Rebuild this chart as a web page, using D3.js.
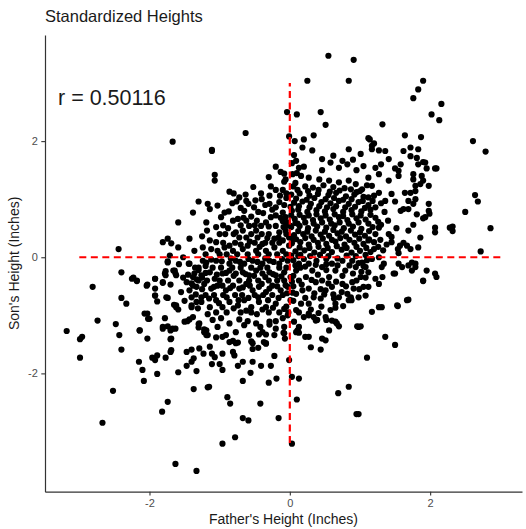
<!DOCTYPE html>
<html>
<head>
<meta charset="utf-8">
<script src="https://cdn.jsdelivr.net/npm/d3@7"></script>
<style>
  body { margin: 0; background: #fff; }
  svg { display: block; font-family: "Liberation Sans", Arial, sans-serif; }
</style>
</head>
<body>
<svg id="chart" width="526" height="529"></svg>
<script>
// Standardized father / son heights (z-scores)
const heights = [
  // sparse top / outliers
  [0.55,3.47],[0.91,3.40],[0.25,3.04],[0.84,3.04],[1.90,3.04],[1.83,2.89],[1.76,2.74],[2.16,2.64],
  [2.02,2.46],[2.13,2.36],[-0.04,2.50],[0.10,2.46],[0.44,2.50],[0.51,2.28],[1.32,2.29],[-0.63,2.14],
  [-1.67,1.99],[-1.11,1.85],[2.61,2.00],[2.79,1.82],[1.64,2.10],[1.87,2.07],[1.12,2.05],[0.34,2.10],
  [0.20,2.03],[-0.01,2.08],[0.07,2.00],[1.14,2.03],[1.20,1.96],
  // upper right
  [0.18,1.89],[0.32,1.84],[0.84,1.86],[1.01,1.78],[1.17,1.92],[1.27,1.84],[1.36,1.83],[1.41,1.69],
  [1.62,1.83],[1.72,1.89],[1.83,1.86],[1.72,1.74],[1.81,1.71],[0.46,1.69],[0.58,1.63],[0.75,1.66],
  [0.82,1.60],[0.46,1.50],[0.70,1.54],[0.09,1.66],[0.13,1.54],[0.20,1.56],[0.04,1.43],[0.16,1.40],
  [0.27,1.37],[0.06,1.76],[1.05,1.57],[1.22,1.54],[1.27,1.43],[1.12,1.37],[1.41,1.32],[1.55,1.49],
  [1.55,1.40],[1.76,1.43],[1.93,1.63],[2.07,1.53],[1.86,1.26],[1.79,1.14],[1.98,1.23],[1.58,1.60],
  [1.50,1.53],[1.83,1.60],[1.90,1.64],[1.95,1.53],[2.09,1.53],[1.76,1.34],[1.88,1.40],[1.90,1.32],
  [1.17,1.86],[0.62,1.75],[0.95,1.50],[1.30,1.60],[0.90,1.68],
  // right middle
  [0.42,1.34],[0.56,1.32],[0.70,1.29],[0.84,1.32],[0.94,1.26],[1.03,1.17],[1.17,1.23],[1.27,1.11],
  [1.12,1.03],[1.36,0.97],[1.45,1.09],[1.64,1.11],[1.69,0.97],[1.62,0.83],[1.79,1.00],[1.98,0.92],
  [1.98,0.80],[1.93,0.69],[2.07,0.51],[2.07,0.43],[2.28,0.51],[1.72,1.11],[1.79,1.23],[1.76,0.92],
  [1.69,0.83],[1.81,0.74],[1.99,0.75],[1.90,0.67],[2.32,0.53],[2.32,0.45],[2.64,1.07],[2.68,0.96],
  [2.50,0.78],[2.86,0.50],[2.72,0.10],[1.86,0.34],[1.83,0.17],[1.76,0.56],[1.69,0.46],[1.72,0.14],
  [1.57,0.20],[1.54,0.14],[1.27,0.51],[1.41,0.40],[1.45,0.26],[1.67,0.20],[1.12,0.29],[1.20,0.14],
  // dense block right of zero, above zero
  [0.05,1.22],[0.22,1.22],[0.33,1.20],[0.48,1.24],[0.62,1.21],[0.78,1.19],[0.95,1.12],[1.10,1.24],
  [0.02,1.08],[0.14,1.10],[0.28,1.06],[0.40,1.09],[0.55,1.07],[0.66,1.11],[0.80,1.05],[0.92,1.08],[1.05,1.04],[1.20,1.06],
  [0.06,0.94],[0.18,0.96],[0.30,0.92],[0.45,0.95],[0.58,0.93],[0.70,0.97],[0.84,0.92],[0.98,0.95],[1.12,0.90],[1.30,0.93],[1.50,0.96],
  [0.03,0.80],[0.12,0.82],[0.25,0.78],[0.38,0.81],[0.50,0.79],[0.62,0.83],[0.76,0.78],[0.88,0.81],[1.02,0.79],[1.15,0.82],[1.35,0.78],[1.58,0.80],
  [0.07,0.66],[0.20,0.68],[0.33,0.64],[0.44,0.67],[0.57,0.65],[0.70,0.69],[0.82,0.64],[0.95,0.67],[1.08,0.65],[1.22,0.68],[1.40,0.63],
  [0.02,0.52],[0.14,0.54],[0.26,0.50],[0.39,0.53],[0.52,0.51],[0.64,0.55],[0.77,0.50],[0.90,0.53],[1.02,0.49],[1.18,0.52],[1.30,0.56],[1.52,0.50],
  [0.06,0.38],[0.19,0.40],[0.31,0.36],[0.44,0.39],[0.56,0.37],[0.68,0.41],[0.80,0.36],[0.93,0.39],[1.07,0.37],[1.22,0.40],[1.45,0.35],
  [0.03,0.24],[0.15,0.26],[0.27,0.22],[0.40,0.25],[0.52,0.23],[0.65,0.27],[0.78,0.22],[0.92,0.25],[1.05,0.23],[1.20,0.26],[1.38,0.22],[1.62,0.25],
  [0.08,0.10],[0.21,0.12],[0.35,0.08],[0.48,0.11],[0.60,0.09],[0.74,0.13],[0.88,0.08],[1.00,0.11],[1.15,0.09],[1.33,0.12],[1.55,0.07],
  [0.03,1.62],[0.08,1.28],[0.10,1.45],[0.02,0.72],[0.11,0.58],[0.04,0.30],[0.12,0.02],
  [0.11,1.16],[0.26,1.14],[0.41,1.16],[0.57,1.13],[0.71,1.15],[0.87,1.17],[1.00,1.14],
  [0.09,1.01],[0.24,0.99],[0.35,1.02],[0.51,1.00],[0.63,1.02],[0.76,0.99],[0.88,1.00],[1.04,0.97],[1.18,0.97],
  [0.01,0.87],[0.13,0.88],[0.28,0.86],[0.42,0.88],[0.53,0.86],[0.66,0.88],[0.79,0.86],[0.93,0.87],[1.07,0.85],[1.22,0.86],
  [0.14,0.73],[0.27,0.72],[0.38,0.74],[0.51,0.72],[0.64,0.74],[0.76,0.71],[0.89,0.74],[1.01,0.72],[1.15,0.73],
  [0.08,0.59],[0.22,0.60],[0.34,0.58],[0.46,0.60],[0.59,0.58],[0.71,0.60],[0.84,0.58],[0.98,0.60],[1.12,0.58],[1.26,0.61],
  [0.12,0.45],[0.25,0.44],[0.37,0.46],[0.50,0.44],[0.62,0.47],[0.74,0.44],[0.87,0.46],[1.00,0.43],[1.13,0.45],
  [0.09,0.31],[0.22,0.33],[0.34,0.30],[0.47,0.32],[0.60,0.30],[0.72,0.33],[0.85,0.30],[0.99,0.32],[1.13,0.31],[1.29,0.30],
  [0.14,0.17],[0.28,0.16],[0.41,0.18],[0.54,0.16],[0.67,0.19],[0.81,0.16],[0.95,0.18],[1.09,0.16],[1.26,0.18],
  [0.02,0.03],[0.15,0.04],[0.29,0.02],[0.43,0.04],[0.55,0.02],[0.81,0.03],[0.94,0.02],[1.08,0.04],
  // right of zero, below zero
  [1.31,-0.17],[1.50,-0.28],[1.90,-0.40],[2.07,-0.28],[2.09,-0.34],[1.79,-0.17],[1.74,-0.09],[1.55,-0.11],
  [1.60,-0.17],[1.34,-0.11],[1.17,-0.94],[1.27,-0.86],[1.31,-0.86],[1.53,-0.83],[1.67,-0.74],[0.98,-1.20],
  [1.36,-1.37],[1.50,-1.51],[1.10,-1.73],[0.98,-2.70],[1.69,-0.14],[1.74,-0.23],[1.79,-0.11],[1.32,-0.34],
  [1.48,-0.28],[1.95,-0.23],[1.90,-0.41],[1.54,-0.84],[1.69,-0.73],[1.05,-0.15],[1.08,-0.35],[1.02,-0.25],[1.10,-0.05],
  [1.05,-0.51],[1.08,-0.66],[0.98,-0.69],[0.91,-0.54],[0.82,-0.63],[0.84,-0.74],[0.70,-0.69],[0.65,-0.80],
  [0.58,-0.91],[0.67,-1.14],[0.60,-1.09],[0.51,-1.03],[0.37,-1.09],[0.27,-0.97],[0.20,-1.03],[0.13,-1.20],
  [0.11,-1.26],[0.27,-1.37],[0.46,-1.40],[0.56,-1.26],[0.06,-1.11],[0.09,-0.91],[0.16,-0.80],[0.27,-0.80],
  [0.34,-0.69],[0.44,-0.71],[0.51,-0.57],[0.60,-0.51],[0.75,-0.46],[0.89,-0.43],[1.01,-0.34],[1.12,-0.26],
  [1.22,-0.37],[1.27,-0.46],[1.12,-0.51],[1.08,-0.17],[0.94,-0.17],[0.79,-0.23],[0.65,-0.23],[0.56,-0.34],
  [0.46,-0.40],[0.37,-0.43],[0.27,-0.54],[0.18,-0.57],[0.09,-0.63],[0.23,-0.34],[0.13,-0.40],[0.32,-0.23],
  [0.46,-0.17],[0.27,-0.11],[0.13,-0.11],[0.09,-0.23],[0.60,-0.11],[0.75,-0.06],[0.89,-0.06],[1.03,-0.09],
  [1.17,-0.03],[1.27,0.00],[0.05,-0.05],[0.20,-0.03],[0.38,-0.06],[0.52,-0.03],[0.68,-0.02],[0.05,-0.32],
  [0.40,-0.30],[0.75,-0.32],[0.90,-0.28],[0.55,-0.45],[0.35,-0.62],[0.62,-0.64],[0.05,-0.75],[0.45,-0.85],
  [0.30,-0.90],[0.05,-0.50],[0.95,-0.40],[0.15,-0.18],[0.52,-0.22],[0.85,-0.14],
  [0.63,-0.71],[0.65,-0.87],[0.87,-0.69],[0.88,-0.74],[0.27,-1.00],[0.34,-1.03],[0.96,-1.19],[1.01,-1.19],
  [0.39,-1.08],[0.52,-1.08],[0.65,-1.11],[0.70,-1.19],[0.30,-1.55],[0.44,-1.59],[0.51,-1.43],[0.22,-1.37],
  [0.13,-1.30],[0.09,-1.29],[0.69,-2.34],[0.84,-2.23],[0.95,-2.70],
  [0.08,-0.14],[0.22,-0.16],[0.37,-0.13],[0.52,-0.12],[0.68,-0.14],[0.98,-0.10],
  [0.03,-0.42],[0.17,-0.47],[0.31,-0.39],[0.44,-0.55],[0.66,-0.42],[0.80,-0.50],[0.99,-0.55],
  [0.04,-0.61],[0.22,-0.70],[0.49,-0.64],[0.74,-0.60],[0.13,-0.95],[0.41,-0.96],[0.76,-0.84],
  // lower middle / lower tail
  [-1.23,-1.66],[-1.11,-1.66],[-1.07,-1.72],[-0.96,-1.66],[-0.81,-1.63],[-0.79,-1.69],[-1.11,-1.84],[-1.00,-1.84],
  [-0.96,-1.94],[-0.74,-1.87],[-0.67,-1.80],[-0.53,-1.80],[-0.41,-1.87],[-0.27,-1.87],[-0.56,-1.99],[-0.67,-2.13],
  [-0.22,-1.70],[-0.01,-1.77],[-0.30,-2.16],[-0.19,-2.09],[0.03,-2.06],[0.13,-2.09],[-1.15,-2.23],[-0.89,-2.41],
  [-0.85,-2.52],[-0.42,-2.52],[0.10,-2.45],[-0.67,-2.77],[-0.59,-2.81],[-0.16,-2.77],[-0.78,-3.10],[-0.96,-3.21],
  [0.03,-3.21],[-0.09,-1.30],[-0.07,-1.40],[-0.29,-1.16],[-0.22,-1.34],[-0.34,-1.49],[-0.44,-1.33],[-0.34,-1.33],
  [-0.55,-1.45],[-0.53,-1.58],[-0.45,-1.56],[-1.22,-1.24],[-1.17,-1.34],[-1.05,-1.38],[-0.91,-1.34],[-0.81,-1.44],
  [-0.74,-1.47],
  // left side
  [-1.74,-0.07],[-1.44,-0.11],[-2.40,-0.26],[-2.25,-0.37],[-2.18,-0.41],[-2.81,-0.51],[-2.03,-0.47],[-1.92,-0.37],
  [-1.92,-0.54],[-1.92,-0.66],[-1.81,-0.44],[-1.77,-0.31],[-1.77,-0.24],[-1.70,-0.47],[-1.64,-0.23],[-1.63,-0.28],
  [-1.89,-0.76],[-1.74,-0.70],[-2.40,-0.70],[-2.33,-0.80],[-1.65,-0.82],[-1.62,-0.86],[-1.59,-0.90],[-1.45,-0.30],
  [-1.40,-0.45],[-1.33,-0.38],[-1.30,-0.22],[-1.25,-0.35],[-1.35,-0.18],[-1.20,-0.15],[-1.40,-0.69],[-1.40,-0.86],
  [-1.33,-0.77],[-1.31,-0.88],[-1.26,-0.69],[-2.74,-1.09],[-2.48,-1.15],[-2.43,-1.34],[-3.18,-1.27],[-2.99,-1.41],
  [-2.96,-1.37],[-2.99,-1.73],[-2.40,-1.59],[-2.14,-1.26],[-2.03,-1.40],[-2.03,-0.97],[-2.00,-1.06],[-1.78,-1.05],
  [-1.81,-1.23],[-1.74,-1.19],[-1.70,-1.26],[-1.63,-1.23],[-1.70,-1.41],[-1.46,-1.10],[-1.43,-1.07],[-1.30,-1.15],
  [-1.30,-1.21],[-1.22,-1.29],[-1.19,-1.34],[-2.15,-1.80],[-2.10,-1.94],[-2.08,-2.13],[-1.96,-1.73],[-1.92,-1.77],
  [-1.89,-1.69],[-1.77,-1.73],[-1.70,-1.63],[-1.89,-2.01],[-1.59,-1.98],[-1.47,-1.63],[-1.40,-1.59],[-1.37,-1.74],
  [-1.40,-1.80],[-1.47,-1.87],[-1.33,-1.96],[-1.37,-2.27],[-1.17,-2.24],[-2.52,-2.30],[-1.74,-2.49],[-1.82,-2.66],
  [-2.67,-2.85],[-1.63,-3.56],[-1.33,-3.68],[-2.44,0.14],[-1.74,-0.09],
  // left-center, above zero
  [-1.11,1.83],[-1.07,1.42],[-1.07,1.32],[-0.20,1.56],[-0.13,1.47],[-0.08,1.44],[-0.06,1.34],[-0.08,1.30],
  [-0.30,1.38],[-0.86,1.13],[-0.52,1.21],[-0.72,1.03],[-0.62,0.97],[-0.59,0.92],[-0.65,0.80],[-0.76,0.96],
  [-0.49,0.98],[-0.41,1.10],[-0.29,1.06],[-0.29,0.92],[-0.20,1.16],[-0.10,1.16],[-1.30,0.96],[-1.17,0.92],
  [-1.14,0.83],[-1.03,0.89],[-1.38,0.77],[-0.93,0.77],[-0.98,0.69],[-1.59,0.60],[-1.19,0.60],[-1.18,0.46],
  [-0.88,0.50],[-0.81,0.63],[-0.74,0.66],[-0.62,0.63],[-0.58,0.54],[-0.67,0.46],[-0.77,0.43],[-0.72,0.34],
  [-0.62,0.34],[-0.55,0.40],[-0.48,0.46],[-0.46,0.34],[-0.41,0.54],[-0.34,0.60],[-0.27,0.69],[-0.20,0.72],
  [-0.10,0.77],[-0.06,0.69],[-0.20,0.54],[-0.15,0.43],[-0.06,0.46],[0.01,0.54],[-0.22,0.32],[-0.10,0.29],
  [-0.01,0.34],[-1.81,0.26],[-1.74,0.32],[-1.69,0.24],[-1.43,0.32],[-1.59,0.17],[-1.36,0.11],[-1.24,0.17],
  [-1.14,0.29],[-1.05,0.26],[-1.03,0.11],[-0.93,0.17],[-0.86,0.20],[-0.81,0.11],[-0.67,0.14],[-0.60,0.20],
  [-0.48,0.11],[-0.39,0.23],[-0.34,0.11],[-0.22,0.17],[-0.10,0.11],[-0.01,0.20],
  [-0.70,0.85],[-0.45,0.78],[-0.35,0.90],[-0.55,0.70],[-0.15,0.95],[-0.05,1.10],[-0.40,1.00],[-0.25,0.82],
  [-0.05,1.02],[-0.08,0.90],[-0.03,0.60],[-0.10,0.62],
  [-0.80,1.10],[-0.63,1.08],[-0.27,1.22],[-0.14,1.06],[-0.82,0.93],[-0.51,0.86],[-0.20,0.86],[-0.87,0.79],
  [-0.38,0.76],[-0.13,0.68],[-0.66,0.68],[-0.47,0.63],[-0.30,0.53],[-0.09,0.52],[-1.05,0.52],[-0.57,0.27],
  [-0.32,0.33],[-0.16,0.34],[-1.25,0.36],[-1.00,0.40],[-0.70,0.55],[-0.43,0.18],[-0.70,0.22],[-1.12,0.14],
  // left-center, below zero
  [-1.71,0.03],[-1.52,0.00],[-1.43,-0.11],[-1.19,-0.09],[-1.05,-0.06],[-0.86,-0.11],[-0.77,-0.06],[-0.65,-0.11],
  [-0.53,-0.06],[-0.39,-0.11],[-0.29,-0.06],[-0.15,-0.11],[-0.03,-0.06],[-2.23,-0.35],[-2.18,-0.40],[-2.04,-0.49],
  [-1.92,-0.37],[-1.92,-0.66],[-1.81,-0.43],[-1.78,-0.28],[-1.66,-0.23],[-1.62,-0.31],[-1.47,-0.43],[-1.38,-0.34],
  [-1.26,-0.31],[-1.14,-0.26],[-1.07,-0.37],[-0.96,-0.28],[-0.86,-0.23],[-0.77,-0.28],[-0.67,-0.26],[-0.58,-0.31],
  [-0.48,-0.23],[-0.39,-0.28],[-0.29,-0.26],[-0.20,-0.31],[-0.08,-0.26],[0.01,-0.34],
  [-1.43,-0.57],[-1.33,-0.51],[-1.22,-0.46],[-1.12,-0.54],[-1.03,-0.49],[-0.91,-0.57],[-0.81,-0.49],[-0.72,-0.54],
  [-0.62,-0.46],[-0.53,-0.57],[-0.44,-0.51],[-0.34,-0.60],[-0.25,-0.49],[-0.13,-0.57],[-0.03,-0.51],
  [-1.76,-0.69],[-1.62,-0.83],[-1.40,-0.83],[-1.26,-0.77],[-1.14,-0.86],[-1.05,-0.74],[-0.96,-0.86],[-0.86,-0.77],
  [-0.74,-0.83],[-0.65,-0.74],[-0.55,-0.86],[-0.44,-0.77],[-0.34,-0.86],[-0.20,-0.80],[-0.08,-0.89],[0.01,-0.74],
  [-2.07,-0.97],[-2.02,-1.06],[-2.14,-1.26],[-1.81,-1.20],[-1.67,-1.23],[-1.69,-1.40],[-1.50,-1.11],[-1.38,-1.03],
  [-1.29,-1.14],[-1.19,-1.26],[-1.10,-1.08],[-1.03,-1.20],[-0.96,-1.37],[-0.86,-1.14],[-0.77,-1.29],[-0.65,-1.17],
  [-0.58,-1.34],[-0.48,-1.14],[-0.39,-1.29],[-0.29,-1.11],[-0.20,-1.23],[-0.08,-1.31],[-0.37,-1.46],[-0.86,-1.46],
  [-0.77,-1.48],[-0.53,-1.48],[-0.34,-1.48],[-1.69,-1.60],[-1.29,-1.57],[-1.14,-1.54],
  [-0.95,0.55],[-0.50,0.55],[-0.05,0.55],[-0.92,0.40],[-0.80,0.40],[-0.40,0.40],[-0.30,0.40],[-0.05,0.40],
  [-0.95,0.25],[-0.78,0.25],[-0.50,0.25],[-0.35,0.25],[-0.25,0.25],[-0.15,0.25],
  [-1.20,0.05],[-1.00,0.05],[-0.90,0.05],[-0.75,0.05],[-0.60,0.05],[-0.45,0.05],[-0.30,0.05],[-0.18,0.05],[-0.05,0.05],
  [-1.30,-0.18],[-1.10,-0.18],[-0.98,-0.18],[-0.82,-0.18],[-0.70,-0.18],[-0.55,-0.18],[-0.42,-0.18],[-0.32,-0.18],[-0.15,-0.18],[-0.05,-0.18],
  [-1.30,-0.40],[-1.18,-0.40],[-1.00,-0.40],[-0.88,-0.40],[-0.72,-0.40],[-0.58,-0.40],[-0.45,-0.40],[-0.30,-0.40],[-0.18,-0.40],[-0.08,-0.40],
  [-1.20,-0.65],[-1.08,-0.65],[-0.95,-0.65],[-0.78,-0.65],[-0.68,-0.65],[-0.50,-0.65],[-0.38,-0.65],[-0.25,-0.65],[-0.10,-0.65],
  [-1.05,-0.95],[-0.90,-0.95],[-0.70,-0.95],[-0.55,-0.95],[-0.30,-0.95],[-0.15,-0.95],[-0.02,-0.95],
  [-0.60,-1.10],[-0.20,-1.10],[-0.05,-0.85],[-0.03,-1.00],[-0.08,-1.20],
  [-1.24,-0.06],[-1.12,-0.04],[-0.97,-0.07],[-0.84,-0.02],[-0.71,-0.08],[-0.59,-0.03],[-0.46,-0.08],[-0.35,-0.02],[-0.23,-0.08],[-0.11,-0.03],
  [-1.36,-0.28],[-1.20,-0.27],[-1.04,-0.30],[-0.91,-0.27],[-0.80,-0.32],[-0.63,-0.29],[-0.51,-0.32],[-0.35,-0.34],[-0.24,-0.29],[-0.12,-0.33],
  [-1.38,-0.49],[-1.25,-0.55],[-1.08,-0.51],[-0.96,-0.49],[-0.85,-0.53],[-0.67,-0.52],[-0.57,-0.49],[-0.40,-0.46],[-0.29,-0.54],[-0.18,-0.50],[-0.06,-0.48],
  [-1.34,-0.64],[-1.15,-0.71],[-1.01,-0.79],[-0.90,-0.69],[-0.73,-0.74],[-0.59,-0.70],[-0.45,-0.69],[-0.31,-0.74],[-0.16,-0.70],[-0.04,-0.62],
  [-1.17,-0.98],[-0.98,-1.05],[-0.80,-0.88],[-0.62,-0.92],[-0.47,-0.98],[-0.39,-0.90],[-0.24,-0.87],[-0.10,-1.05],
  [-0.72,-1.07],[-0.42,-1.20],[-1.55,-0.60],[-1.52,-0.35],[-1.58,-0.12],[-1.50,-0.75]
];

const xTicks = [-2, 0, 2];
const yTicks = [-2, 0, 2];
// dashed reference lines through the origin
const hLine = [[-3, 0], [3, 0]];
const vLine = [[0, -3.2], [0, 3]];
const title = "Standardized Heights";
const rLabel = "r = 0.50116";
const xTitle = "Father's Height (Inches)";
const yTitle = "Son's Height (Inches)";

const svg = d3.select("#chart");
const margin = { top: 35, right: 4, bottom: 37.3, left: 45 };
const width = 526 - margin.left - margin.right;
const height = 529 - margin.top - margin.bottom;

// ggplot style 5% expansion, including the reference lines
function expand(vals) {
  const [lo, hi] = d3.extent(vals);
  const pad = (hi - lo) * 0.05;
  return [lo - pad, hi + pad];
}
const xVals = heights.map(d => d[0]).concat(hLine.map(d => d[0]), vLine.map(d => d[0]));
const yVals = heights.map(d => d[1]).concat(hLine.map(d => d[1]), vLine.map(d => d[1]));

const x = d3.scaleLinear().domain(expand(xVals)).range([0, width]);
const y = d3.scaleLinear().domain(expand(yVals)).range([height, 0]);

const g = svg.append("g").attr("transform", `translate(${margin.left},${margin.top})`);

// points
g.append("g")
  .selectAll("circle")
  .data(heights)
  .join("circle")
  .attr("cx", d => x(d[0]))
  .attr("cy", d => y(d[1]))
  .attr("r", 3.1)
  .attr("fill", "#000");

// reference lines
const line = d3.line().x(d => x(d[0])).y(d => y(d[1]));
[hLine, vLine].forEach(seg => {
  g.append("path")
    .attr("d", line(seg))
    .attr("fill", "none")
    .attr("stroke", "#ff0000")
    .attr("stroke-width", 2.2)
    .attr("stroke-dasharray", "7,4.5");
});

// axes, plain integer labels with an ascii minus like ggplot
const fmt = d => String(d);
const xAxis = g.append("g")
  .attr("transform", `translate(0,${height})`)
  .call(d3.axisBottom(x).tickValues(xTicks).tickFormat(fmt).tickSizeInner(3.7).tickSizeOuter(0).tickPadding(3.5));
const yAxis = g.append("g")
  .call(d3.axisLeft(y).tickValues(yTicks).tickFormat(fmt).tickSizeInner(3.7).tickSizeOuter(0).tickPadding(3.5));

[xAxis, yAxis].forEach(ax => {
  ax.select(".domain").attr("stroke", "#333").attr("stroke-width", 1.2);
  ax.selectAll(".tick line").attr("stroke", "#333").attr("stroke-width", 1.1);
  ax.selectAll(".tick text")
    .attr("fill", "#4d4d4d")
    .style("font-size", "11px")
    .style("font-family", "'Liberation Sans', Arial, sans-serif");
});

// correlation label
g.append("text")
  .attr("x", 13)
  .attr("y", 70)
  .attr("fill", "#1a1a1a")
  .style("font-size", "21.5px")
  .text(rLabel);

// title
svg.append("text")
  .attr("x", 45)
  .attr("y", 21.5)
  .attr("fill", "#1a1a1a")
  .style("font-size", "16.5px")
  .text(title);

// axis titles
svg.append("text")
  .attr("x", margin.left + width / 2)
  .attr("y", 524)
  .attr("text-anchor", "middle")
  .attr("fill", "#1a1a1a")
  .style("font-size", "14px")
  .text(xTitle);

svg.append("text")
  .attr("transform", `translate(19,${margin.top + height / 2}) rotate(-90)`)
  .attr("text-anchor", "middle")
  .attr("fill", "#1a1a1a")
  .style("font-size", "14px")
  .text(yTitle);
</script>
</body>
</html>
